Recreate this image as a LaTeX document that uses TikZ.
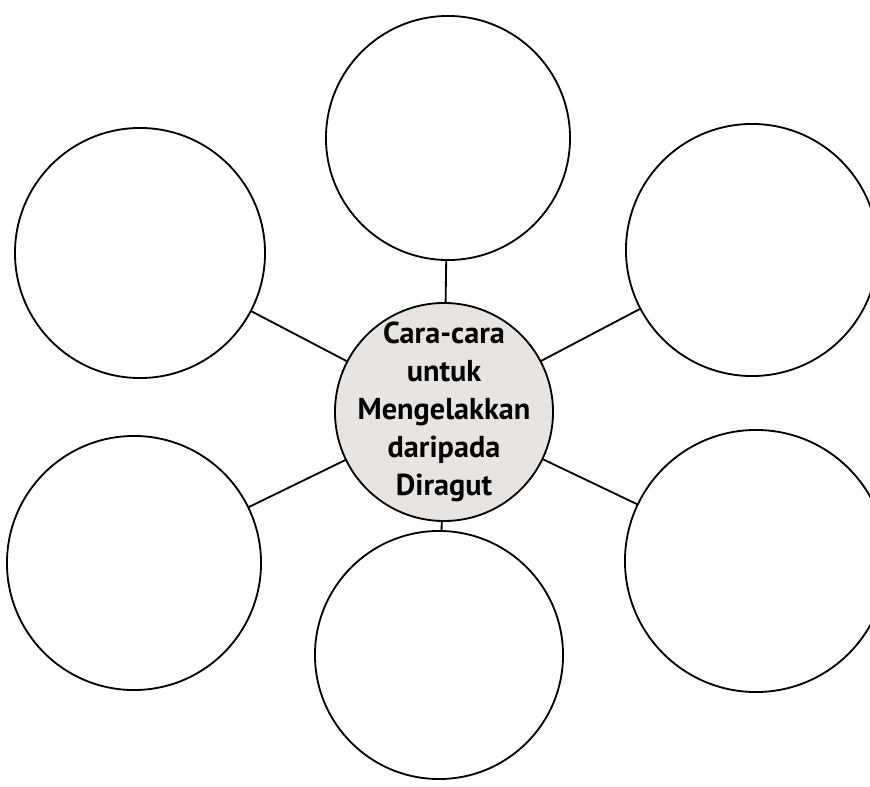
\documentclass[tikz,border=0pt]{standalone}
\usepackage{fontspec}
\setsansfont{PT Sans}
\usetikzlibrary{positioning}
\definecolor{hubgray}{RGB}{232,228,225}

\begin{document}
\begin{tikzpicture}[
  x=0.025cm, y=-0.025cm,
  bubble/.style={circle, draw, line width=1.3pt, fill=white, inner sep=0pt, outer sep=0pt},
  hub/.style={bubble, fill=hubgray, minimum size=5.45cm, inner sep=-20pt, align=center,
              font=\sffamily\bfseries\fontsize{21.5}{27}\selectfont},
  link/.style={line width=1.3pt}]
  \useasboundingbox (0,0) rectangle (870,787);
  \clip (0,0) rectangle (870,787);
  \node[hub] (hub) at (444,412) {Cara-cara\\untuk\\Mengelakkan\\daripada\\Diragut};
  \node[bubble, minimum size=6.1cm] (top) at (448,138) {};
  \node[bubble, minimum size=6.25cm] (topleft) at (140,253) {};
  \node[bubble, minimum size=6.3cm] (topright) at (752,250) {};
  \node[bubble, minimum size=6.35cm] (botleft) at (134,563) {};
  \node[bubble, minimum size=6.55cm] (botright) at (756,561) {};
  \node[bubble, minimum size=6.2cm] (bottom) at (439,655) {};
  \draw[link] (hub) -- (top);
  \draw[link] (hub) -- (topleft);
  \draw[link] (hub) -- (topright);
  \draw[link] (hub) -- (botleft);
  \draw[link] (hub) -- (botright);
  \draw[link] (hub) -- (bottom);
\end{tikzpicture}
\end{document}
